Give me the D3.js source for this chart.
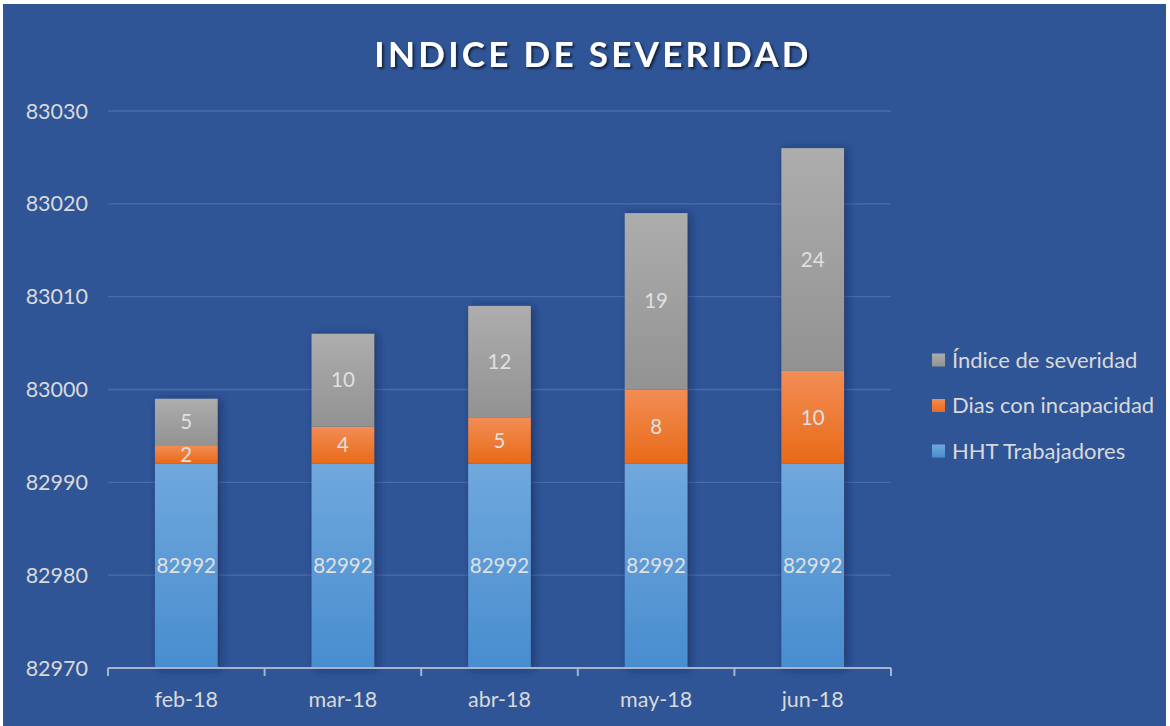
<!DOCTYPE html>
<html><head><meta charset="utf-8">
<script src="https://cdn.jsdelivr.net/npm/d3@7"></script>
<style>
html,body{margin:0;padding:0;background:#fff;}
svg{display:block;}
text{font-family:Lato,"Open Sans",sans-serif;}
</style></head>
<body><svg id="c" width="1170" height="726"></svg>
<script>
const categories = ["feb-18","mar-18","abr-18","may-18","jun-18"];
const hht = [82992,82992,82992,82992,82992];
const dias = [2,4,5,8,10];
const indice = [5,10,12,19,24];
const seriesNames = ["HHT Trabajadores","Dias con incapacidad","Índice de severidad"];
const yTicks = [82970,82980,82990,83000,83010,83020,83030];

const svg = d3.select("#c");
const W = 1170, H = 726;
const defs = svg.append("defs");
function grad(id, c1, c2){
  const g = defs.append("linearGradient").attr("id",id).attr("x1",0).attr("y1",0).attr("x2",0).attr("y2",1);
  g.append("stop").attr("offset","0%").attr("stop-color",c1);
  g.append("stop").attr("offset","100%").attr("stop-color",c2);
}
grad("gBlue","#70a8dd","#488dcf");
grad("gOrange","#f28d55","#e86a17");
grad("gGray","#adadad","#929292");
const f = defs.append("filter").attr("id","sh").attr("x","-30%").attr("y","-10%").attr("width","160%").attr("height","120%");
f.append("feDropShadow").attr("dx",3).attr("dy",1).attr("stdDeviation",4).attr("flood-color","#0b1e45").attr("flood-opacity",0.55);
const tf = defs.append("filter").attr("id","tsh");
tf.append("feDropShadow").attr("dx",2).attr("dy",2).attr("stdDeviation",1.2).attr("flood-color","#000").attr("flood-opacity",0.6);

svg.append("rect").attr("x",3).attr("y",4).attr("width",W-7).attr("height",H-4).attr("fill","#2f5597");

const x = d3.scaleBand().domain(categories).range([108,891]).paddingInner(0.6).paddingOuter(0.3);
const y = d3.scaleLinear().domain([82970,83030]).range([668,111]);

svg.append("g").selectAll("line").data(yTicks.slice(1)).join("line")
  .attr("x1",108).attr("x2",891).attr("y1",d=>y(d)).attr("y2",d=>y(d))
  .attr("stroke","#4a6cab").attr("stroke-width",1.3);

svg.append("g").selectAll("text").data(yTicks).join("text")
  .attr("x",88).attr("y",d=>y(d)).attr("dy","0.35em").attr("text-anchor","end")
  .attr("fill","#d9d9d9").attr("font-size",21.5).text(d=>d);

const data = categories.map((c,i)=>({c, vals:[hht[i],dias[i],indice[i]]}));
const fills = ["url(#gBlue)","url(#gOrange)","url(#gGray)"];

const bars = svg.append("g");
data.forEach(d=>{
  const g = bars.append("g").attr("filter","url(#sh)");
  let base = 0;
  d.vals.forEach((v,k)=>{
    const y0 = base===0 ? y.domain()[0] : base;
    const start = base===0 ? 0 : base;
    const top = start + v;
    g.append("rect").attr("x",x(d.c)).attr("width",x.bandwidth())
      .attr("y",y(top)).attr("height",y(y0)-y(top)).attr("fill",fills[k]);
    base = top;
  });
});
data.forEach(d=>{
  let base = 0;
  d.vals.forEach((v,k)=>{
    const lo = base===0 ? y.domain()[0] : base;
    const top = (base===0?0:base) + v;
    const cy = (y(lo)+y(top))/2;
    svg.append("text").attr("x",x(d.c)+x.bandwidth()/2).attr("y",cy).attr("dy","0.35em")
      .attr("text-anchor","middle").attr("fill","#e0e0e0").attr("font-size",20.5).text(v);
    base = top;
  });
});

const xa = svg.append("g");
xa.append("line").attr("x1",108).attr("x2",891).attr("y1",668).attr("y2",668).attr("stroke","#a7b4cc").attr("stroke-width",2);
const tickXs = categories.map(c=>x(c)-x.step()*x.paddingInner()/2).concat([891]);
xa.selectAll("line.t").data(tickXs).join("line").attr("class","t")
  .attr("x1",d=>d).attr("x2",d=>d).attr("y1",668).attr("y2",676).attr("stroke","#a7b4cc").attr("stroke-width",2);
xa.selectAll("text").data(categories).join("text")
  .attr("x",d=>x(d)+x.bandwidth()/2).attr("y",699).attr("dy","0.35em").attr("text-anchor","middle")
  .attr("fill","#d9d9d9").attr("font-size",21.5).text(d=>d);

svg.append("text").attr("x",593).attr("y",55).attr("dy","0.35em").attr("text-anchor","middle")
  .attr("fill","#ffffff").attr("font-size",35).attr("font-weight","bold").attr("letter-spacing",3.3)
  .attr("filter","url(#tsh)").text("INDICE DE SEVERIDAD");

const legItems = [2,1,0];
const lg = svg.append("g");
legItems.forEach((k,i)=>{
  const ly = 360 + i*45.5;
  lg.append("rect").attr("x",932).attr("y",ly-6.5).attr("width",13).attr("height",13).attr("fill",fills[k]);
  lg.append("text").attr("x",952).attr("y",ly).attr("dy","0.35em").attr("fill","#d9d9d9").attr("font-size",22).text(seriesNames[k]);
});
</script></body></html>
